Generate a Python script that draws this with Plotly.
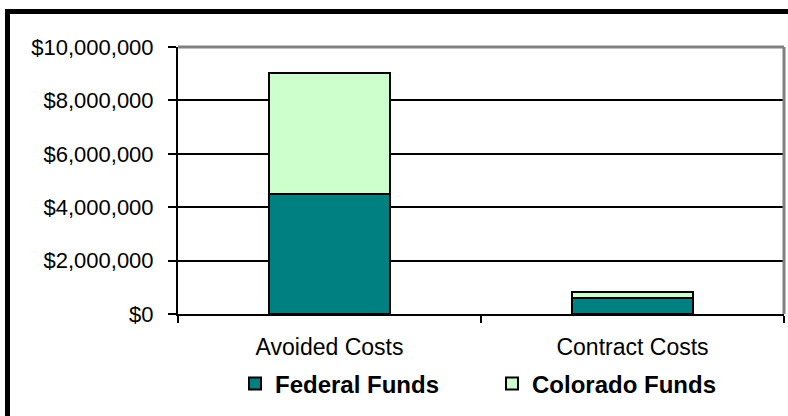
import plotly.graph_objects as go

categories = ["Avoided Costs", "Contract Costs"]
federal_funds = [4510000, 610000]
colorado_funds = [4520000, 210000]
y_ticks = [0, 2000000, 4000000, 6000000, 8000000, 10000000]
y_tick_labels = ["$0", "$2,000,000", "$4,000,000", "$6,000,000", "$8,000,000", "$10,000,000"]

W, H = 788, 416
L, R, T, B = 178, 4, 47, 102
pw, ph = W - L - R, H - T - B

def px_x(px):
    return (px - L) / pw

def px_y(py):
    return (H - B - py) / ph

fig = go.Figure()
fig.add_trace(go.Bar(
    x=categories, y=federal_funds, name="Federal Funds",
    marker=dict(color="#008080", line=dict(color="black", width=2)),
    width=0.4,
))
fig.add_trace(go.Bar(
    x=categories, y=colorado_funds, name="Colorado Funds",
    marker=dict(color="#CCFFCC", line=dict(color="black", width=2)),
    width=0.4,
))

fig.update_layout(
    width=W, height=H,
    margin=dict(l=L, r=R, t=T, b=B, pad=0),
    barmode="stack",
    paper_bgcolor="white", plot_bgcolor="white",
    font=dict(family="Liberation Sans, Arial, sans-serif", color="black", size=20),
    showlegend=True,
    legend=dict(
        orientation="h", x=px_x(492), xanchor="center", y=px_y(384), yanchor="middle",
        font=dict(size=24, family="Liberation Sans, Arial, sans-serif", color="black", weight="bold"),
        traceorder="normal", entrywidth=212, entrywidthmode="pixels",
        itemclick=False, bgcolor="rgba(0,0,0,0)", itemwidth=30,
    ),
    xaxis=dict(
        type="category", range=[-0.5, 1.5],
        tickson="boundaries", ticks="outside", ticklen=7, tickwidth=2, tickcolor="black",
        showline=True, linecolor="black", linewidth=2,
        showgrid=False, tickfont=dict(size=23), ticklabelstandoff=11,
    ),
    yaxis=dict(
        range=[0, 10000000], tickvals=y_ticks, ticktext=y_tick_labels,
        ticks="outside", ticklen=8, tickwidth=2, tickcolor="black",
        showline=True, linecolor="black", linewidth=2,
        showgrid=True, gridcolor="black", gridwidth=2,
        zeroline=False, tickfont=dict(size=22), ticklabelstandoff=10,
    ),
    shapes=[
        dict(type="line", xref="paper", yref="paper", x0=0, x1=1, y0=1, y1=1,
             line=dict(color="#808080", width=3), layer="above"),
        dict(type="line", xref="paper", yref="paper", x0=1, x1=1, y0=0, y1=1,
             line=dict(color="#808080", width=3), layer="above"),
        dict(type="rect", xref="paper", yref="paper",
             x0=px_x(7.5), x1=px_x(820), y0=px_y(440), y1=px_y(11.5),
             line=dict(color="black", width=5), fillcolor="rgba(0,0,0,0)", layer="above"),
    ],
)

fig.write_html("out.html")
